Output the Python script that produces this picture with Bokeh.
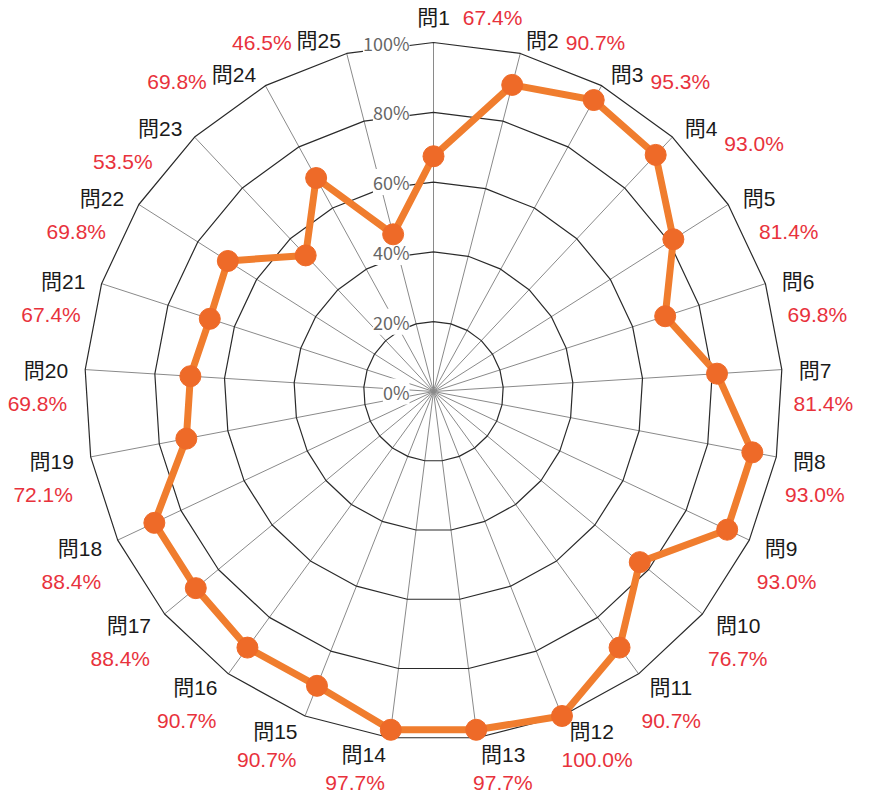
import math
from bokeh.plotting import figure
from bokeh.models import Range1d, ColumnDataSource
from bokeh.embed import file_html
from bokeh.resources import INLINE
from bokeh.core.properties import value

# ---------------- data ----------------
questions = ["問1", "問2", "問3", "問4", "問5", "問6", "問7", "問8", "問9", "問10",
             "問11", "問12", "問13", "問14", "問15", "問16", "問17", "問18", "問19", "問20",
             "問21", "問22", "問23", "問24", "問25"]
scores = [67.4, 90.7, 95.3, 93.0, 81.4, 69.8, 81.4, 93.0, 93.0, 76.7,
          90.7, 100.0, 97.7, 97.7, 90.7, 90.7, 88.4, 88.4, 72.1, 69.8,
          67.4, 69.8, 53.5, 69.8, 46.5]
ticks = [0, 20, 40, 60, 80, 100]
tick_labels = ["0%", "20%", "40%", "60%", "80%", "100%"]

# ---------------- layout ----------------
W, H = 853, 796
PX = 3.49            # pixels per percent unit
CX, CY = 433, 391    # centre in figure pixels (from top-left)
FONT = "Liberation Sans, Noto Sans CJK JP"
TFONT = "Noto Sans CJK JP"
FS = 21

p = figure(width=W, height=H, output_backend="svg", toolbar_location=None,
           x_range=Range1d(-CX / PX, (W - CX) / PX),
           y_range=Range1d(-(H - CY) / PX, CY / PX),
           min_border=0, background_fill_color="white", border_fill_color="white")
p.axis.visible = False
p.grid.visible = False
p.outline_line_color = None

n = len(questions)
theta = [math.pi / 2 - 2 * math.pi * i / n for i in range(n)]
cs = [math.cos(t) for t in theta]
sn = [math.sin(t) for t in theta]

# spokes
p.segment(x0=[0] * n, y0=[0] * n, x1=[ticks[-1] * c for c in cs], y1=[ticks[-1] * s for s in sn],
          line_color="#8a8a8a", line_width=1)

# rings
ring_xs, ring_ys = [], []
for r in ticks[1:]:
    ring_xs.append([r * c for c in cs] + [r * cs[0]])
    ring_ys.append([r * s for s in sn] + [r * sn[0]])
p.multi_line(ring_xs, ring_ys, line_color="#2a2a2a", line_width=1.2)

# tick labels on the 問1 axis
p.text(x=[-24 / PX] * len(ticks), y=ticks, text=tick_labels,
       text_align="right", text_baseline="middle",
       text_font=value(TFONT), text_font_size="18px", text_color="#666666",
       background_fill_color="white")

# series
sx = [v * c for v, c in zip(scores, cs)]
sy = [v * s for v, s in zip(scores, sn)]
p.line(sx + [sx[0]], sy + [sy[0]], line_color="#F07D2E", line_width=7, line_join="round")
p.scatter(sx, sy, size=21, fill_color="#EE6A28", line_color="#EE6A28")

# category + value labels
groups = {}
def add(key, x, y, t):
    g = groups.setdefault(key, {"x": [], "y": [], "text": []})
    g["x"].append(x / PX); g["y"].append(y / PX); g["text"].append(t)

for q, v, c, s in zip(questions, scores, cs, sn):
    vx, vy = ticks[-1] * c * PX, ticks[-1] * s * PX
    gx = 2 + 15 * abs(c)
    down = 2 - 15 * s - (12 if s > 0.99 else 0)
    if abs(c) < 0.05:
        nal, nx = "center", vx
    elif c > 0:
        nal, nx = "left", vx + gx
    else:
        nal, nx = "right", vx - gx
    ny = vy - down
    add(("name", nal), nx, ny, q)

    wn = FS * (1 + 0.556 * (len(q) - 1))
    vt = f"{v:.1f}%"
    beside = abs(c) < 0.05 or (c > 0 and s > 0.7) or (c < 0 and s > 0.8)
    if beside:
        vdown = (1 - s) * 55
        if c >= -0.05:
            left = nx - wn / 2 if nal == "center" else nx
            gap = 13 if nal == "center" else 7
            add(("val", "left"), left + wn + gap, ny - vdown, vt)
        else:
            add(("val", "right"), nx - wn - 5, ny - vdown, vt)
    else:
        vdown = 33 if s > -0.85 else 28
        if c > 0:
            add(("val", "left"), nx + (-8 + 45 * max(s, 0)), ny - vdown, vt)
        else:
            add(("val", "right"), nx - (1 + 60 * max(s - 0.25, 0)), ny - vdown, vt)

for (kind, al), g in groups.items():
    p.text(x="x", y="y", text="text", source=ColumnDataSource(g),
           text_align=al, text_baseline="middle", text_font=value(FONT),
           text_font_size=f"{FS}px",
           text_color="#1a1a1a" if kind == "name" else "#E8323C")

open("out.html", "w").write(file_html(p, INLINE))
